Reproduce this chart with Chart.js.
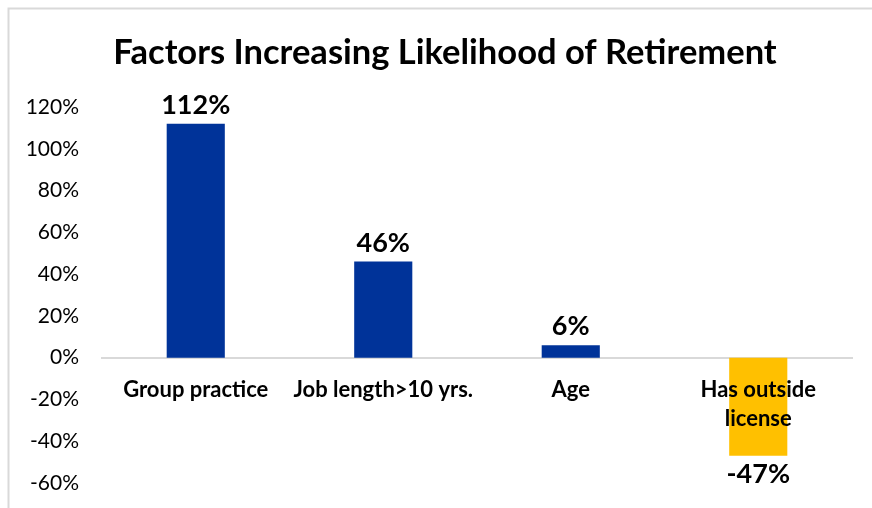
<!DOCTYPE html>
<html>
<head>
<meta charset="utf-8">
<script src="https://cdn.jsdelivr.net/npm/chart.js@4/dist/chart.umd.min.js"></script>
<style>
html,body{margin:0;padding:0;background:#ffffff;}
#wrap{width:872px;height:508px;position:relative;}
</style>
</head>
<body>
<div id="wrap"><canvas id="c" width="872" height="508"></canvas></div>
<script>
// ---- data ----
const titleText = 'Factors Increasing Likelihood of Retirement';
const categories = ['Group practice', 'Job length>10 yrs.', 'Age', ['Has outside', 'license']];
const values = [112, 46, 6, -47];
const barColors = ['#003399', '#003399', '#003399', '#FFC000'];
const yTickValues = [-60, -40, -20, 0, 20, 40, 60, 80, 100, 120];
const yTickLabels = ['-60%', '-40%', '-20%', '0%', '20%', '40%', '60%', '80%', '100%', '120%'];

const FONT = 'Lato, "Open Sans", "DejaVu Sans", sans-serif';
const LABEL_SIZE = 27;

const framePlugin = {
  id: 'frame',
  beforeDraw(chart) {
    const ctx = chart.ctx;
    ctx.save();
    ctx.strokeStyle = '#d9d9d9';
    ctx.lineWidth = 2;
    ctx.beginPath();
    ctx.moveTo(8.5, 508);
    ctx.lineTo(8.5, 8.5);
    ctx.lineTo(872, 8.5);
    ctx.stroke();
    ctx.restore();
  }
};

const valueLabelPlugin = {
  id: 'valueLabels',
  afterDatasetsDraw(chart) {
    const ctx = chart.ctx;
    const meta = chart.getDatasetMeta(0);
    ctx.save();
    ctx.font = 'bold ' + LABEL_SIZE + 'px ' + FONT;
    ctx.fillStyle = '#000000';
    ctx.textAlign = 'center';
    ctx.textBaseline = 'alphabetic';
    meta.data.forEach((bar, i) => {
      const v = chart.data.datasets[0].data[i];
      const txt = v + '%';
      if (v >= 0) {
        ctx.fillText(txt, bar.x, bar.y - 10);
      } else {
        ctx.fillText(txt, bar.x, bar.y + 8 + LABEL_SIZE * 0.72);
      }
    });
    ctx.restore();
  }
};

new Chart(document.getElementById('c'), {
  type: 'bar',
  data: {
    labels: categories,
    datasets: [{
      data: values,
      backgroundColor: barColors,
      borderWidth: 0,
      categoryPercentage: 1,
      barPercentage: 0.31,
      yAxisID: 'y'
    }]
  },
  options: {
    responsive: false,
    devicePixelRatio: 1,
    animation: false,
    layout: { padding: { left: 20, right: 2, top: 0, bottom: 25 } },
    plugins: {
      legend: { display: false },
      tooltip: { enabled: false },
      title: {
        display: true,
        text: titleText,
        color: '#000000',
        font: { family: FONT, size: 34.5, weight: 'bold', lineHeight: 1.2 },
        padding: { top: 32.3, bottom: 33.3 }
      }
    },
    scales: {
      x: {
        position: { y: 0 },
        grid: { display: false, drawTicks: false },
        border: { display: true, color: '#d9d9d9', width: 2 },
        ticks: {
          z: 1,
          color: '#000000',
          padding: 17.5,
          autoSkip: false,
          maxRotation: 0,
          font: { family: FONT, size: 22, weight: 'bold', lineHeight: 1.32 }
        },
        afterFit(scale) { scale.height = 0; }
      },
      y: {
        position: 'left',
        min: -60,
        max: 120,
        grid: { display: false, drawTicks: true, tickLength: 11 },
        border: { display: false },
        afterBuildTicks(scale) {
          scale.ticks = yTickValues.map(v => ({ value: v }));
        },
        ticks: {
          color: '#000000',
          padding: 12,
          font: { family: FONT, size: 21, lineHeight: 1.0 },
          callback(value) {
            const idx = yTickValues.indexOf(value);
            return idx >= 0 ? yTickLabels[idx] : '';
          }
        },
        afterFit(scale) { scale.width = 82; }
      },
      yRight: {
        type: 'linear',
        axis: 'y',
        position: 'right',
        grid: { display: false, drawTicks: false },
        border: { display: false },
        ticks: { display: false, padding: 0 },
        afterFit(scale) { scale.width = 18; }
      }
    }
  },
  plugins: [framePlugin, valueLabelPlugin]
});
</script>
</body>
</html>
